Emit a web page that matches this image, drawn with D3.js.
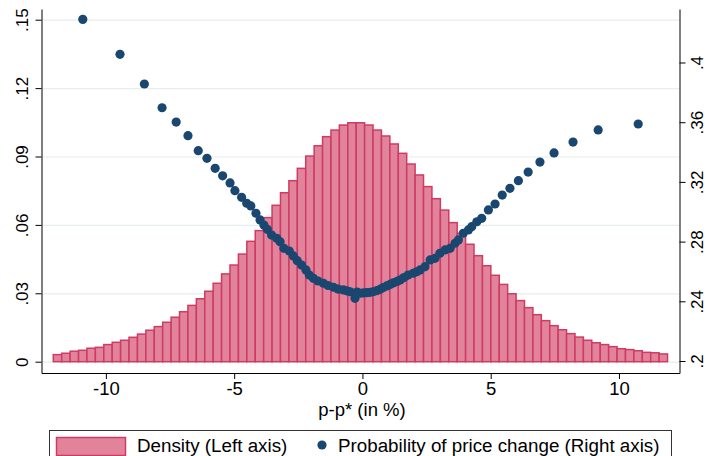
<!DOCTYPE html>
<html>
<head>
<meta charset="utf-8">
<script src="https://cdn.jsdelivr.net/npm/d3@7/dist/d3.min.js"></script>
<style>
  html, body { margin: 0; padding: 0; background: #ffffff; }
  svg { display: block; }
  text { font-family: "Liberation Sans", Arial, Helvetica, sans-serif; fill: #000; }
</style>
</head>
<body>
<svg id="chart" width="706" height="456"></svg>
<script>
// ---------------- DATA ----------------
// Histogram of p - p* (in %): first bin left edge and common bin width
const binStart = -12.05;
const binWidth = 0.328;
// Density (left axis), one value per bin, left to right
const density = [
  0.0031, 0.0037, 0.0046, 0.0050, 0.0059, 0.0063, 0.0075, 0.0085, 0.0094, 0.0107,
  0.0121, 0.0138, 0.0154, 0.0173, 0.0195, 0.0219, 0.0247, 0.0276, 0.0309, 0.0344,
  0.0385, 0.0424, 0.0472, 0.0528, 0.0575, 0.0632, 0.0686, 0.0741, 0.0794, 0.0848,
  0.0902, 0.0947, 0.0987, 0.1016, 0.1038, 0.1048, 0.1048, 0.1038, 0.1016, 0.0990,
  0.0955, 0.0914, 0.0867, 0.0819, 0.0768, 0.0715, 0.0665, 0.0610, 0.0563, 0.0515,
  0.0465, 0.0421, 0.0379, 0.0339, 0.0298, 0.0268, 0.0237, 0.0206, 0.0180, 0.0158,
  0.0140, 0.0123, 0.0108, 0.0094, 0.0083, 0.0075, 0.0066, 0.0057, 0.0053, 0.0048,
  0.0041, 0.0039, 0.0034
];
// Probability of price change (right axis)
const probX = [
  -10.90, -9.45, -8.50, -7.81, -7.26, -6.80, -6.40, -6.06, -5.74, -5.45,
  -5.16, -4.97, -4.71, -4.51, -4.35, -4.15, -3.99, -3.84, -3.71, -3.54,
  -3.34, -3.21, -3.06, -2.85, -2.69, -2.54, -2.37, -2.20, -2.07, -1.91,
  -1.73, -1.52, -1.34, -1.13, -0.95, -0.74, -0.61, -0.48, -0.29, -0.21,
  -0.09, 0.04, 0.17, 0.30, 0.42, 0.57, 0.69, 0.81, 0.95, 1.08,
  1.20, 1.35, 1.47, 1.62, 1.78, 1.98, 2.12, 2.25, 2.44, 2.64,
  2.83, 3.02, 3.22, 3.42, 3.61, 3.74, 3.93, 4.13, 4.26, 4.46,
  4.65, 4.91, 5.17, 5.45, 5.75, 6.08, 6.46, 6.92, 7.47, 8.21,
  9.19, 10.75
];
const probY = [
  0.4289, 0.4055, 0.3856, 0.3697, 0.3601, 0.3510, 0.3409, 0.3358, 0.3291, 0.3241,
  0.3193, 0.3141, 0.3097, 0.3057, 0.3039, 0.2990, 0.2945, 0.2911, 0.2882, 0.2844,
  0.2822, 0.2799, 0.2755, 0.2737, 0.2704, 0.2672, 0.2643, 0.2610, 0.2576, 0.2554,
  0.2536, 0.2521, 0.2506, 0.2494, 0.2482, 0.2476, 0.2470, 0.2464, 0.2420, 0.2462,
  0.2454, 0.2456, 0.2458, 0.2460, 0.2464, 0.2472, 0.2480, 0.2492, 0.2503, 0.2513,
  0.2523, 0.2533, 0.2543, 0.2559, 0.2576, 0.2588, 0.2598, 0.2610, 0.2632, 0.2677,
  0.2688, 0.2722, 0.2744, 0.2755, 0.2789, 0.2811, 0.2856, 0.2878, 0.2900, 0.2933,
  0.2956, 0.3012, 0.3052, 0.3112, 0.3157, 0.3208, 0.3266, 0.3333, 0.3394, 0.3467,
  0.3548, 0.3588
];
// Axis ticks
const xTicks = [-10, -5, 0, 5, 10];
const leftTicks = [0, 0.03, 0.06, 0.09, 0.12, 0.15];
const rightTicks = [0.2, 0.24, 0.28, 0.32, 0.36, 0.4];
// Texts
const xTitle = "p-p* (in %)";
const legendLabels = ["Density (Left axis)", "Probability of price change (Right axis)"];

// ---------------- LAYOUT ----------------
const plotL = 41.5, plotR = 679.5, plotT = 9, plotB = 373;
const yFont = 17, xFont = 18.5, legFont = 18.8;
const barFill = "#e2839c", barStroke = "#cf3b63", dotColor = "#1a476f";
const gridColor = "#e6eef0";

const svg = d3.select("#chart");

const x = d3.scaleLinear().domain([-12.51, 12.36]).range([plotL, plotR]);
const yL = d3.scaleLinear().domain([-0.00496, 0.1547]).range([plotB, plotT]);
const yR = d3.scaleLinear().domain([0.19196, 0.43585]).range([plotB, plotT]);

const fmt = d => d === 0 ? "0" : d3.format("~g")(d).replace(/^0\./, ".");

// gridlines (from left axis)
svg.append("g")
  .attr("transform", `translate(${plotL},0)`)
  .call(d3.axisLeft(yL).tickValues(leftTicks).tickSize(-(plotR - plotL)).tickFormat(""))
  .call(g => g.select(".domain").remove())
  .call(g => g.selectAll("line").attr("stroke", gridColor).attr("stroke-width", 1.2));

// bars
svg.append("g").selectAll("rect")
  .data(density)
  .join("rect")
  .attr("x", (d, i) => x(binStart + i * binWidth))
  .attr("width", (d, i) => x(binStart + (i + 1) * binWidth) - x(binStart + i * binWidth))
  .attr("y", d => yL(d))
  .attr("height", d => yL(0) - yL(d))
  .attr("fill", barFill)
  .attr("stroke", barStroke)
  .attr("stroke-width", 1.5);

// dots
svg.append("g").selectAll("circle")
  .data(probX.map((v, i) => [v, probY[i]]))
  .join("circle")
  .attr("cx", d => x(d[0]))
  .attr("cy", d => yR(d[1]))
  .attr("r", 4.6)
  .attr("fill", dotColor);

// left axis
svg.append("g")
  .attr("transform", `translate(${plotL},0)`)
  .call(d3.axisLeft(yL).tickValues(leftTicks).tickSize(6).tickSizeOuter(0).tickFormat(fmt))
  .call(g => g.selectAll("line, path").attr("stroke", "#000"))
  .call(g => g.selectAll("text")
    .attr("x", null).attr("dy", null)
    .attr("transform", "translate(-14,0) rotate(-90)")
    .attr("text-anchor", "middle")
    .style("font-size", yFont + "px")
    .style("font-family", "'Liberation Sans', Arial, sans-serif"));

// right axis
svg.append("g")
  .attr("transform", `translate(${plotR},0)`)
  .call(d3.axisRight(yR).tickValues(rightTicks).tickSize(6).tickSizeOuter(0).tickFormat(fmt))
  .call(g => g.selectAll("line, path").attr("stroke", "#000"))
  .call(g => g.selectAll("text")
    .attr("x", null).attr("dy", null)
    .attr("transform", "translate(23,0) rotate(-90)")
    .attr("text-anchor", "middle")
    .style("font-size", yFont + "px")
    .style("font-family", "'Liberation Sans', Arial, sans-serif"));

// bottom axis
svg.append("g")
  .attr("transform", `translate(0,${plotB})`)
  .call(d3.axisBottom(x).tickValues(xTicks).tickSize(6).tickSizeOuter(0).tickFormat(d => d3.format("d")(d).replace("−", "-")))
  .call(g => g.selectAll("line, path").attr("stroke", "#000"))
  .call(g => g.selectAll("text")
    .attr("y", 8.5)
    .style("font-size", xFont + "px")
    .style("font-family", "'Liberation Sans', Arial, sans-serif"));

// x title
svg.append("text")
  .attr("x", (plotL + plotR) / 2 + 1.5)
  .attr("y", 416)
  .attr("text-anchor", "middle")
  .style("font-size", xFont + "px")
  .text(xTitle);

// legend
const lg = svg.append("g");
lg.append("rect")
  .attr("x", 49.5).attr("y", 430.5).attr("width", 622).attr("height", 40)
  .attr("fill", "#fff").attr("stroke", "#333").attr("stroke-width", 1);
lg.append("rect")
  .attr("x", 56.5).attr("y", 437.5).attr("width", 69).attr("height", 18)
  .attr("fill", barFill).attr("stroke", barStroke).attr("stroke-width", 1.5);
lg.append("text")
  .attr("x", 137).attr("y", 451.5)
  .style("font-size", legFont + "px")
  .text(legendLabels[0]);
lg.append("circle")
  .attr("cx", 322).attr("cy", 445).attr("r", 4.6).attr("fill", dotColor);
lg.append("text")
  .attr("x", 338).attr("y", 451.5)
  .style("font-size", legFont + "px")
  .text(legendLabels[1]);
</script>
</body>
</html>
